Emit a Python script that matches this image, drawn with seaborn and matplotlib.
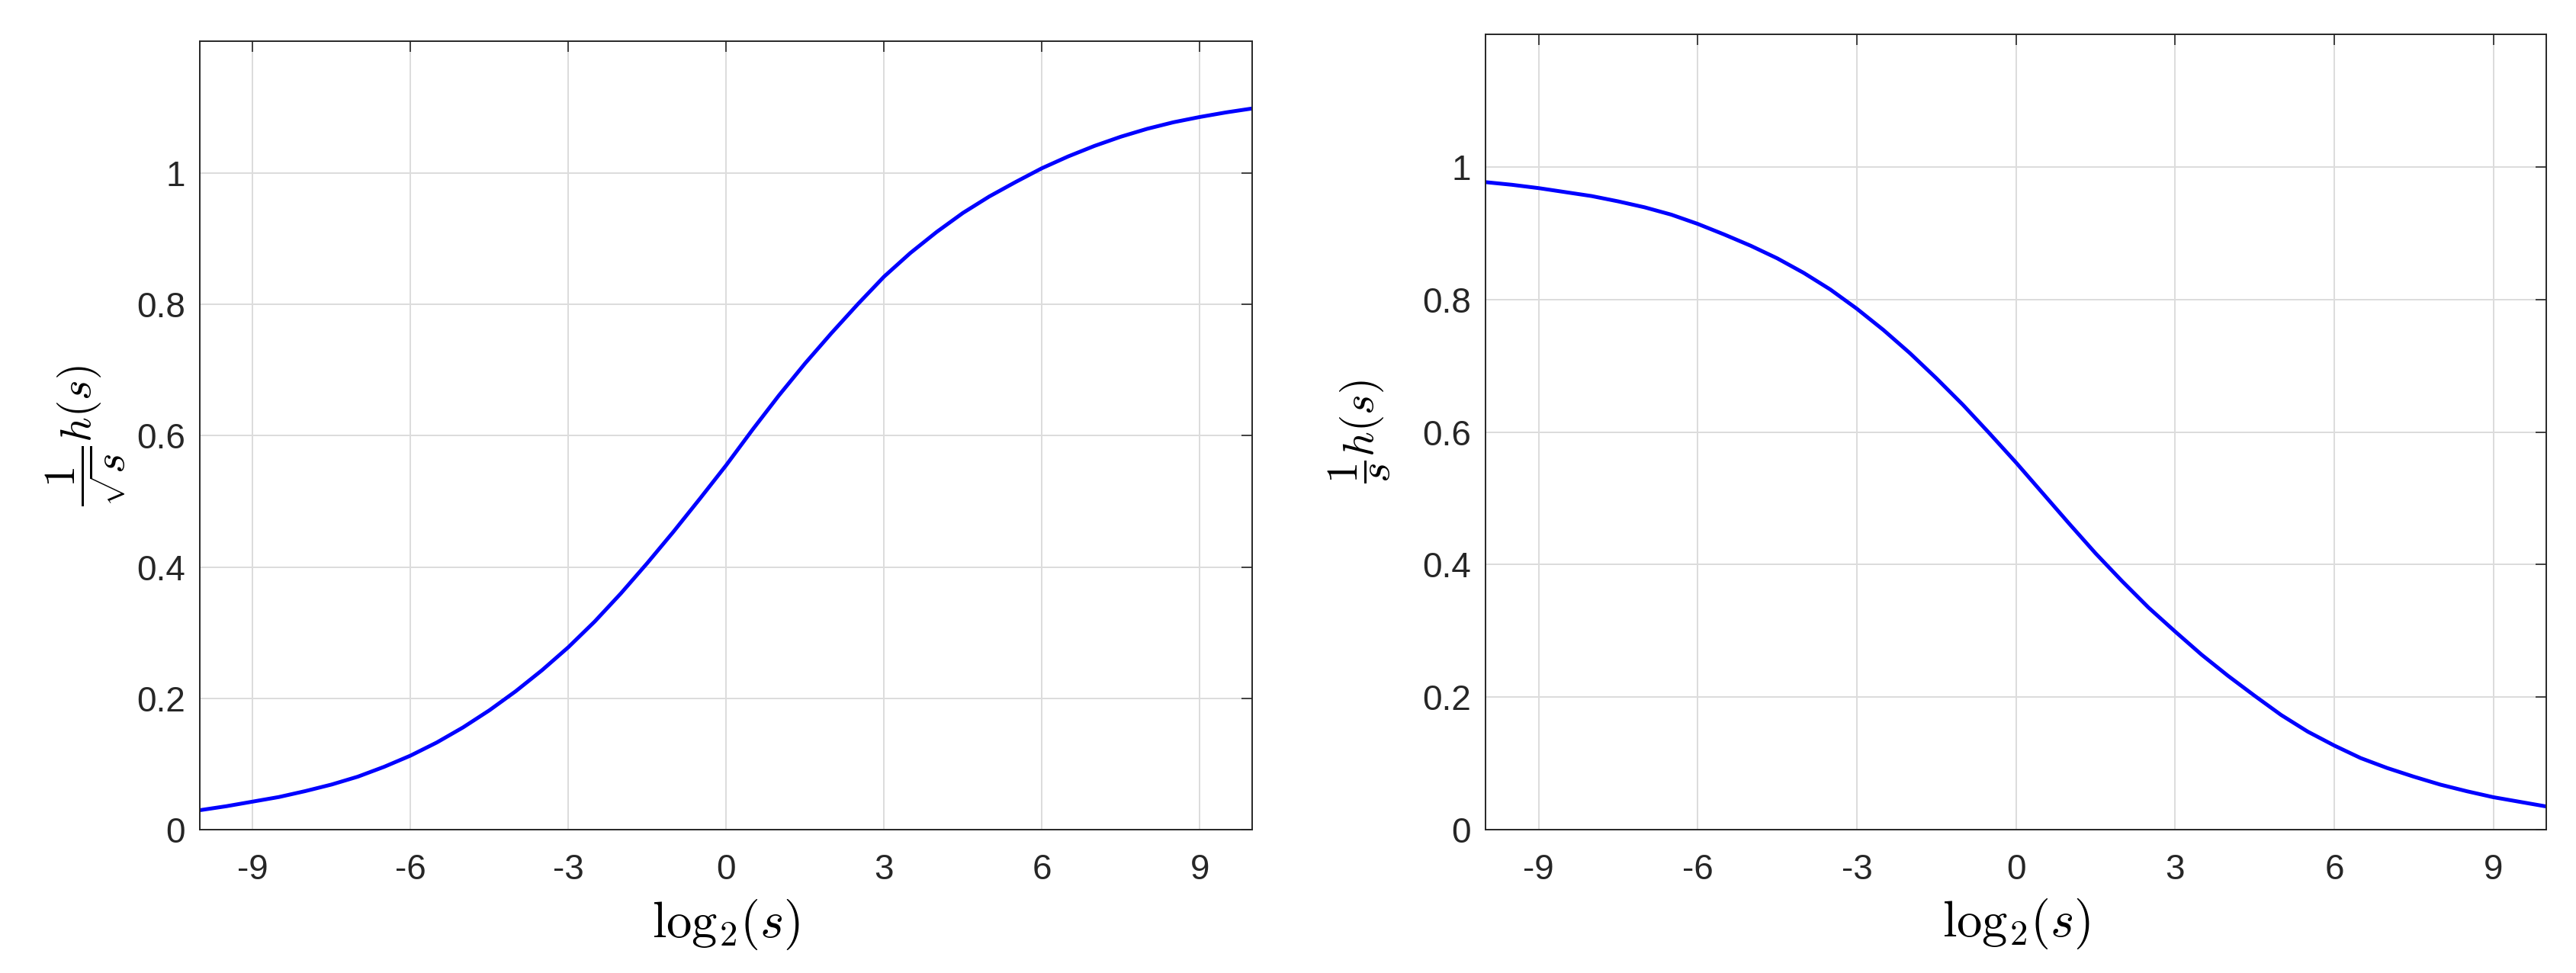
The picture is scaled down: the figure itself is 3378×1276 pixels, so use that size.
import numpy as np
import pandas as pd
import matplotlib
matplotlib.use("Agg")
import matplotlib.pyplot as plt
import seaborn as sns

# valores, en x = log2(s) de -10 a 10 cada 0.5
log2_s = [-10, -9.5, -9, -8.5, -8, -7.5, -7, -6.5, -6, -5.5, -5,
          -4.5, -4, -3.5, -3, -2.5, -2, -1.5, -1, -0.5, 0,
          0.5, 1, 1.5, 2, 2.5, 3, 3.5, 4, 4.5, 5,
          5.5, 6, 6.5, 7, 7.5, 8, 8.5, 9, 9.5, 10]

# panel izquierdo: h(s)/sqrt(s)
h_sqrt = [0.030, 0.036, 0.043, 0.050, 0.059, 0.069, 0.081, 0.096, 0.113, 0.133, 0.156,
          0.182, 0.211, 0.243, 0.278, 0.317, 0.360, 0.406, 0.454, 0.504, 0.555,
          0.609, 0.661, 0.710, 0.756, 0.800, 0.842, 0.878, 0.910, 0.939, 0.964,
          0.986, 1.007, 1.025, 1.041, 1.055, 1.067, 1.077, 1.085, 1.092, 1.098]

# panel derecho: h(s)/s
h_lin = [0.977, 0.973, 0.968, 0.962, 0.956, 0.948, 0.939, 0.928, 0.914, 0.898, 0.881,
         0.862, 0.840, 0.815, 0.786, 0.754, 0.719, 0.681, 0.641, 0.598, 0.554,
         0.508, 0.462, 0.417, 0.375, 0.335, 0.299, 0.264, 0.232, 0.202, 0.173,
         0.148, 0.127, 0.108, 0.093, 0.080, 0.068, 0.058, 0.049, 0.042, 0.035]

x_ticks = [-9, -6, -3, 0, 3, 6, 9]
y_ticks = [0, 0.2, 0.4, 0.6, 0.8, 1.0]
y_ticklabels = ["0", "0.2", "0.4", "0.6", "0.8", "1"]

df = pd.DataFrame({"log2_s": log2_s, "h_sqrt": h_sqrt, "h_lin": h_lin})

sns.set_theme(style="white")
plt.rcParams["font.family"] = ["Liberation Sans", "DejaVu Sans"]
plt.rcParams["mathtext.fontset"] = "cm"
plt.rcParams["axes.unicode_minus"] = False

AX_COLOR = "#262626"

fig = plt.figure(figsize=(3378 / 200, 1276 / 200), dpi=200)
ax1 = fig.add_axes([0.07765, 0.1471, 0.4085, 0.8103])
ax2 = fig.add_axes([0.5767, 0.1473, 0.4118, 0.8174])

# (eje, columna, etiqueta y, posicion x de la etiqueta en coords del eje)
paneles = [
    (ax1, "h_sqrt", r"$\dfrac{1}{\sqrt{s}}h(s)$", -0.069),
    (ax2, "h_lin", r"$\dfrac{1}{s}h(s)$", -0.088),
]

for ax, col, ylab, ylab_x in paneles:
    sns.lineplot(data=df, x="log2_s", y=col, ax=ax, color="#0000ff", linewidth=1.8)
    ax.set_xlim(-10, 10)
    ax.set_ylim(0, 1.2)
    ax.set_xticks(x_ticks)
    ax.set_xticklabels([str(t) for t in x_ticks])
    ax.set_yticks(y_ticks)
    ax.set_yticklabels(y_ticklabels)
    ax.grid(True, color="#dcdcdc", linewidth=0.7)
    ax.set_axisbelow(True)
    for sp in ax.spines.values():
        sp.set_visible(True)
        sp.set_color(AX_COLOR)
        sp.set_linewidth(0.7)
    ax.tick_params(direction="in", length=5, width=0.6, color=AX_COLOR,
                   top=True, right=True, labelsize=16.5, labelcolor=AX_COLOR)
    ax.tick_params(axis="x", pad=11)
    ax.tick_params(axis="y", pad=7)
    ax.set_xlabel(r"$\mathrm{log}_2(s)$", fontsize=24, color="black", labelpad=5)
    ax.set_ylabel(ylab, fontsize=20.5, color="black")
    ax.yaxis.set_label_coords(ylab_x, 0.5)

fig.savefig("out.png", dpi=200, facecolor="white")
